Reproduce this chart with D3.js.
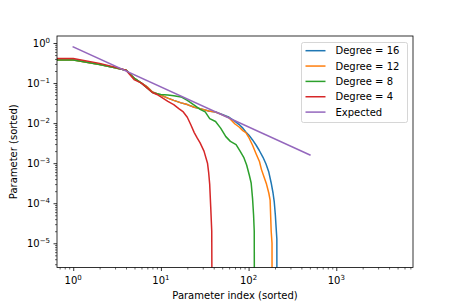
<!DOCTYPE html>
<html>
<head>
<meta charset="utf-8">
<script src="https://cdn.jsdelivr.net/npm/d3@7"></script>
<style>
  body { margin: 0; background: #fff; }
  svg { display: block; font-family: "DejaVu Sans", sans-serif; }
</style>
</head>
<body>
<svg id="chart" width="459" height="306"></svg>
<script>
// sorted parameter magnitudes (index, value)
const deg16Idx = [0, 1, 2, 3, 4, 5, 6, 7, 8, 9, 10, 12, 14, 17, 20, 24, 28, 35, 42, 50, 60, 70, 78, 86, 93, 101, 111, 122, 132, 146, 158, 170, 181, 190, 196, 202, 206, 210, 212];
const deg16Val = [0.38, 0.38, 0.29, 0.24, 0.21, 0.13, 0.1, 0.08, 0.06, 0.054, 0.05, 0.042, 0.037, 0.032, 0.029, 0.025, 0.023, 0.02, 0.019, 0.0165, 0.014, 0.011, 0.0092, 0.0075, 0.006, 0.005, 0.0038, 0.0028, 0.0021, 0.0014, 0.00095, 0.0006, 0.00032, 0.00018, 0.00011, 0.00005, 0.000025, 0.000013, 1e-12];

const deg12Idx = [0, 1, 2, 3, 4, 5, 6, 7, 8, 9, 10, 12, 14, 17, 20, 24, 28, 35, 42, 50, 60, 70, 78, 86, 93, 100, 111, 122, 133, 140, 150, 160, 170, 176, 181, 185, 186];
const deg12Val = [0.375, 0.375, 0.29, 0.24, 0.21, 0.13, 0.1, 0.08, 0.06, 0.054, 0.05, 0.042, 0.037, 0.032, 0.029, 0.025, 0.023, 0.02, 0.019, 0.016, 0.0135, 0.0095, 0.008, 0.0065, 0.0058, 0.0045, 0.0028, 0.0017, 0.0011, 0.0007, 0.00045, 0.0003, 0.00018, 0.00012, 0.00002, 0.00001, 1e-12];

const deg8Idx = [0, 1, 2, 3, 4, 5, 6, 7, 8, 9, 10, 12, 14, 17, 20, 24, 28, 32, 36, 42, 48, 55, 62, 72, 80, 88, 95, 102, 107, 111, 114, 116, 118];
const deg8Val = [0.375, 0.375, 0.29, 0.24, 0.21, 0.13, 0.1, 0.075, 0.058, 0.054, 0.052, 0.05, 0.048, 0.045, 0.037, 0.028, 0.022, 0.019, 0.013, 0.011, 0.0075, 0.0046, 0.0035, 0.0029, 0.002, 0.0014, 0.0009, 0.0005, 0.00032, 0.00013, 0.00005, 0.00002, 1e-12];

const deg4Idx = [0, 1, 2, 3, 4, 5, 6, 7, 8, 9, 10, 12, 14, 16, 18, 20, 22, 24, 26, 28, 31, 34, 35, 36, 37, 38, 39];
const deg4Val = [0.41, 0.41, 0.31, 0.25, 0.21, 0.12, 0.1, 0.075, 0.058, 0.052, 0.045, 0.035, 0.029, 0.023, 0.019, 0.014, 0.009, 0.0058, 0.0042, 0.0032, 0.002, 0.001, 0.0006, 0.0003, 0.00008, 0.00002, 1e-12];

const expectedIdx = [1, 500];
const expectedVal = [0.8, 0.0016];

const seriesNames = ["Degree = 16", "Degree = 12", "Degree = 8", "Degree = 4", "Expected"];
const seriesColors = ["#1f77b4", "#ff7f0e", "#2ca02c", "#d62728", "#9467bd"];

const xTicks = [1, 10, 100, 1000];
const xTickExp = [0, 1, 2, 3];
const yTicks = [1, 0.1, 0.01, 0.001, 0.0001, 0.00001];
const yTickExp = [0, -1, -2, -3, -4, -5];

const xLabel = "Parameter index (sorted)";
const yLabel = "Parameter (sorted)";

const mLeft = 57, mRight = 413, mTop = 36, mBottom = 267.5;

const svg = d3.select("#chart");

const x = d3.scaleLog().domain([Math.pow(10, -0.185), Math.pow(10, 3.875)]).range([mLeft, mRight]);
const y = d3.scaleLog().domain([Math.pow(10, -5.605), Math.pow(10, 0.175)]).range([mBottom, mTop]);

// minor ticks 2..9 for every decade that is on screen
function minorTicks(scale) {
  const [a, b] = scale.domain();
  const lo = Math.min(a, b), hi = Math.max(a, b);
  const out = [];
  for (let e = Math.floor(Math.log10(lo)); e <= Math.ceil(Math.log10(hi)); e++) {
    for (let k = 2; k <= 9; k++) {
      const v = k * Math.pow(10, e);
      if (v >= lo && v <= hi) out.push(v);
    }
  }
  return out;
}

svg.append("defs").append("clipPath").attr("id", "plotclip")
  .append("rect").attr("x", mLeft).attr("y", mTop)
  .attr("width", mRight - mLeft).attr("height", mBottom - mTop);

// like matplotlib's nonpositive='clip' on a log axis
const clipX = v => v > 0 ? v : 1e-300;

const line = d3.line()
  .x(d => x(clipX(d[0])))
  .y(d => y(d[1]));

const allSeries = [
  d3.zip(deg16Idx, deg16Val),
  d3.zip(deg12Idx, deg12Val),
  d3.zip(deg8Idx, deg8Val),
  d3.zip(deg4Idx, deg4Val),
  d3.zip(expectedIdx, expectedVal)
];

const plot = svg.append("g").attr("clip-path", "url(#plotclip)");
allSeries.forEach((s, i) => {
  plot.append("path")
    .datum(s)
    .attr("d", line)
    .attr("fill", "none")
    .attr("stroke", seriesColors[i])
    .attr("stroke-width", 1.5)
    .attr("stroke-linejoin", "round")
    .attr("stroke-linecap", "square");
});

// axes
const xMajor = svg.append("g").attr("transform", `translate(0,${mBottom})`)
  .call(d3.axisBottom(x).tickValues(xTicks).tickSize(3.5).tickSizeOuter(0).tickFormat(() => ""));
const xMinor = svg.append("g").attr("transform", `translate(0,${mBottom})`)
  .call(d3.axisBottom(x).tickValues(minorTicks(x)).tickSize(2).tickSizeOuter(0).tickFormat(() => ""));
const yMajor = svg.append("g").attr("transform", `translate(${mLeft},0)`)
  .call(d3.axisLeft(y).tickValues(yTicks).tickSize(3.5).tickSizeOuter(0).tickFormat(() => ""));
const yMinor = svg.append("g").attr("transform", `translate(${mLeft},0)`)
  .call(d3.axisLeft(y).tickValues(minorTicks(y)).tickSize(2).tickSizeOuter(0).tickFormat(() => ""));

[xMajor, xMinor, yMajor, yMinor].forEach(g => {
  g.select(".domain").remove();
  g.selectAll(".tick line").attr("stroke", "#000");
});
xMajor.selectAll(".tick line").attr("stroke-width", 0.8);
yMajor.selectAll(".tick line").attr("stroke-width", 0.8);
xMinor.selectAll(".tick line").attr("stroke-width", 0.6);
yMinor.selectAll(".tick line").attr("stroke-width", 0.6);

function expText(e) {
  return e < 0 ? "\u2212" + (-e) : String(e);
}

xTicks.forEach((v, i) => {
  const t = svg.append("text")
    .attr("x", x(v)).attr("y", mBottom + 16.5)
    .attr("text-anchor", "middle")
    .attr("font-size", 10).attr("fill", "#000");
  t.append("tspan").text("10");
  t.append("tspan").attr("dy", -4.5).attr("font-size", 7).text(expText(xTickExp[i]));
});

yTicks.forEach((v, i) => {
  const t = svg.append("text")
    .attr("x", mLeft - 7).attr("y", y(v) + 4)
    .attr("text-anchor", "end")
    .attr("font-size", 10).attr("fill", "#000");
  t.append("tspan").text("10");
  t.append("tspan").attr("dy", -4.5).attr("font-size", 7).text(expText(yTickExp[i]));
});

// frame
svg.append("rect")
  .attr("x", mLeft).attr("y", mTop)
  .attr("width", mRight - mLeft).attr("height", mBottom - mTop)
  .attr("fill", "none").attr("stroke", "#000").attr("stroke-width", 0.8);

svg.append("text")
  .attr("x", (mLeft + mRight) / 2).attr("y", 299)
  .attr("text-anchor", "middle").attr("font-size", 10)
  .text(xLabel);

svg.append("text")
  .attr("transform", `translate(17,${(mTop + mBottom) / 2}) rotate(-90)`)
  .attr("text-anchor", "middle").attr("font-size", 10)
  .text(yLabel);

// legend
const lg = svg.append("g").attr("transform", "translate(301.5,42.5)");
lg.append("rect")
  .attr("width", 106).attr("height", 80).attr("rx", 2)
  .attr("fill", "#fff").attr("fill-opacity", 0.8)
  .attr("stroke", "#cccccc").attr("stroke-width", 0.8);
seriesNames.forEach((name, i) => {
  const ry = 8.2 + i * 15.35;
  lg.append("line")
    .attr("x1", 4).attr("x2", 24)
    .attr("y1", ry).attr("y2", ry)
    .attr("stroke", seriesColors[i]).attr("stroke-width", 1.5);
  lg.append("text")
    .attr("x", 34).attr("y", ry + 3.6)
    .attr("font-size", 10)
    .text(name);
});
</script>
</body>
</html>
